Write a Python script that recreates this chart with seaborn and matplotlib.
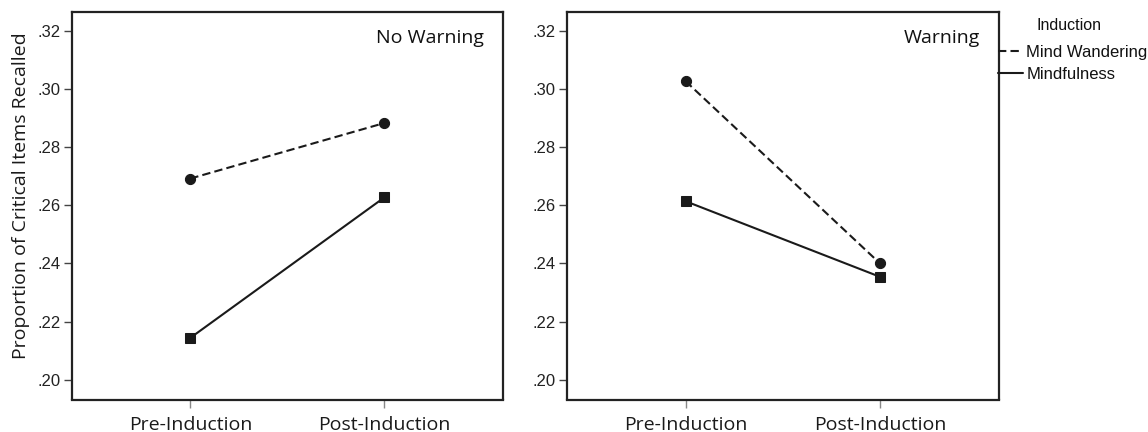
import matplotlib
matplotlib.use("Agg")
import matplotlib.pyplot as plt
from matplotlib.lines import Line2D
import seaborn as sns
import pandas as pd

# ---- data ----
times = ["Pre-Induction", "Post-Induction"]
inductions = ["Mind Wandering", "Mindfulness"]
no_warning_mind_wandering = [0.2692, 0.2883]
no_warning_mindfulness = [0.2144, 0.2627]
warning_mind_wandering = [0.3027, 0.2400]
warning_mindfulness = [0.2614, 0.2354]
panel_titles = ["No Warning", "Warning"]
ytick_values = [0.20, 0.22, 0.24, 0.26, 0.28, 0.30, 0.32]
ytick_labels = [".20", ".22", ".24", ".26", ".28", ".30", ".32"]
ylabel = "Proportion of Critical Items Recalled"
legend_title = "Induction"


def make_df(mw, mf):
    rows = []
    for t, v in zip(times, mw):
        rows.append({"Time": t, "Prop": v, "Induction": inductions[0]})
    for t, v in zip(times, mf):
        rows.append({"Time": t, "Prop": v, "Induction": inductions[1]})
    return pd.DataFrame(rows)


panels = [make_df(no_warning_mind_wandering, no_warning_mindfulness),
          make_df(warning_mind_wandering, warning_mindfulness)]

sns.set_theme(style="white")
plt.rcParams["font.family"] = ["Liberation Sans", "DejaVu Sans"]

W, H = 1148, 432
fig = plt.figure(figsize=(W / 100, H / 100), dpi=100)
fig.patch.set_facecolor("white")

boxes = [(72, 503), (567, 999)]
top_px, bot_px = 12, 399.5
axes = []
for (x0, x1) in boxes:
    ax = fig.add_axes([x0 / W, 1 - bot_px / H, (x1 - x0) / W, (bot_px - top_px) / H])
    axes.append(ax)

line_col = "#1a1a1a"
for ax, df, title in zip(axes, panels, panel_titles):
    sns.lineplot(data=df, x="Time", y="Prop", style="Induction",
                 markers={inductions[0]: "o", inductions[1]: "s"},
                 dashes={inductions[0]: (4, 2), inductions[1]: ""},
                 color=line_col, markersize=7.3, linewidth=1.5,
                 markeredgecolor=line_col, sort=False, legend=False, ax=ax)
    ax.set_xlim(-0.61, 1.612)
    ax.set_ylim(0.1932, 0.3265)
    ax.set_yticks(ytick_values)
    ax.set_yticklabels(ytick_labels)
    ax.set_xticks([0, 1])
    ax.set_xticklabels(times, fontfamily="Open Sans", fontsize=14)
    ax.set_xlabel("")
    ax.set_ylabel("")
    ax.tick_params(axis="y", which="both", left=True, length=6, width=1,
                   color="#444444", labelsize=12, labelcolor="#222222", pad=2)
    ax.tick_params(axis="x", which="both", bottom=True, length=6, width=1,
                   color="#888888", labelcolor="#1a1a1a", pad=6)
    for s in ax.spines.values():
        s.set_visible(True)
        s.set_color("#222222")
        s.set_linewidth(1.6)
    ax.text(0.955, 0.955, title, transform=ax.transAxes, ha="right", va="top",
            fontfamily="Open Sans", fontsize=14, color="#111111")

axes[0].set_ylabel(ylabel, fontfamily="Open Sans", fontsize=14, color="#1a1a1a")
axes[0].yaxis.set_label_coords(-0.097, 0.527)

fig.text(1069 / W, 1 - 25 / H, legend_title, ha="center", va="center",
         fontsize=11.5, color="#111111")
handles = [Line2D([0], [0], color=line_col, lw=1.5, dashes=(4, 2)),
           Line2D([0], [0], color=line_col, lw=1.5)]
leg = fig.legend(handles, inductions, loc="upper left",
                 bbox_to_anchor=(998 / W, 1 - 45 / H), frameon=False,
                 fontsize=12, handlelength=1.5,
                 handletextpad=0.2, labelspacing=0.4, borderpad=0,
                 borderaxespad=0)
for t in leg.get_texts():
    t.set_color("#111111")

fig.savefig("out.png", dpi=100)
